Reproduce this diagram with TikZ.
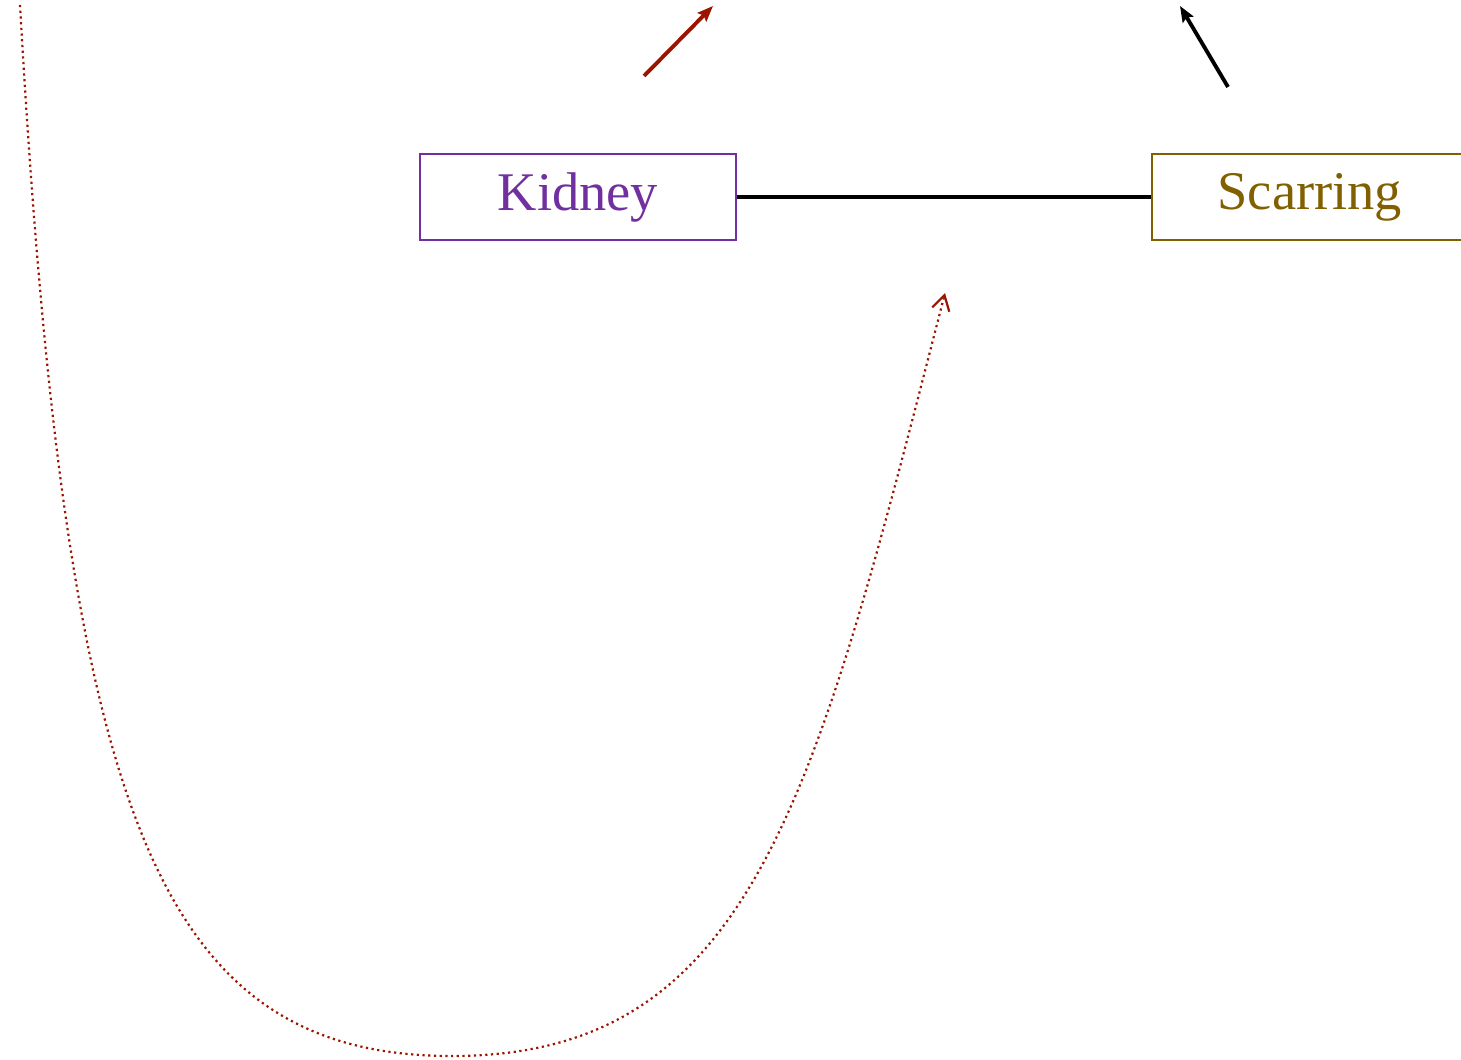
\documentclass[tikz,border=0pt]{standalone}
\usepackage{fontspec}
\setmainfont{Liberation Serif}
\usetikzlibrary{arrows.meta,positioning}
\definecolor{kidneypurple}{HTML}{7030A0}
\definecolor{scarbrown}{HTML}{806000}
\definecolor{linkred}{HTML}{9C1400}

\begin{document}
\begin{tikzpicture}[x=0.02cm, y=-0.02cm,
  box/.style={draw, line width=1.1pt, minimum width=6.32cm, minimum height=1.72cm, font=\fontsize{31}{37}\selectfont},
  link/.style={line width=2.2pt},
  arr/.style={-{Stealth[length=9pt, width=7pt, inset=1.5pt]}, line width=2.2pt},
  loopline/.style={-{Straight Barb[length=8.5pt, width=10pt]}, dotted, line width=1.25pt, linkred}
]
\useasboundingbox (0,0) rectangle (1461,1060);

\node[box, kidneypurple, text=kidneypurple] (kidney) at (578,197) {Kidney};
\node[box, scarbrown, text=scarbrown, right=8.28cm of kidney] (scarring) {Scarring};

\draw[link] (kidney) -- (scarring);

\coordinate (redtail) at (644,76);
\coordinate (redhead) at (713,6);
\draw[arr, linkred] (redtail) -- (redhead);

\coordinate (blacktail) at (1228,87);
\coordinate (blackhead) at (1180,6);
\draw[arr] (blacktail) -- (blackhead);

\coordinate (loopstart) at (20,5);
\coordinate (loophead) at (945,293);
\draw[loopline] (loopstart) .. controls (65,800) and (150,1056) .. (452,1056)
  .. controls (752,1056) and (815,800) .. (loophead);

\end{tikzpicture}
\end{document}
